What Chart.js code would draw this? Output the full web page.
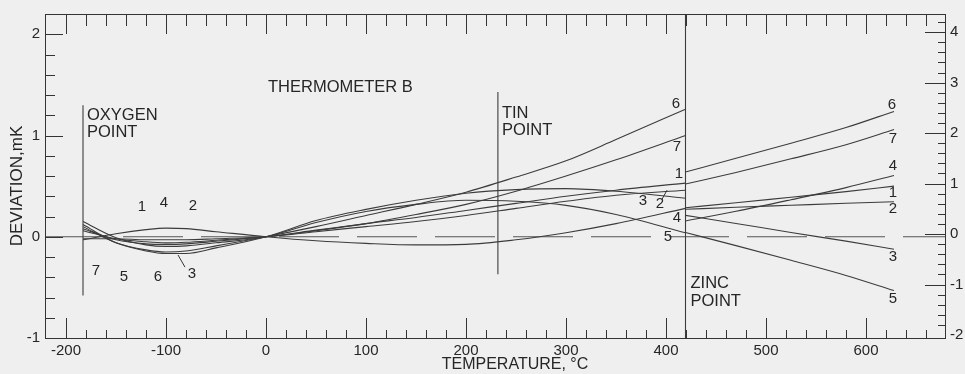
<!DOCTYPE html>
<html>
<head>
<meta charset="utf-8">
<script src="https://cdn.jsdelivr.net/npm/chart.js@4.4.0/dist/chart.umd.min.js"></script>
<style>
  html, body { margin: 0; padding: 0; background: #efefef; }
</style>
</head>
<body>
<canvas id="dev-chart" width="965" height="374"></canvas>
<script>
// temperatures (C) where the curves were read, below the zinc point
var tempsLow = [-183, -150, -120, -100, -80, -50, 0, 50, 100, 150, 200, 250, 300, 350, 419.5];
// deviations, mK (left axis)
var low1 = [0.06, -0.02, -0.05, -0.06, -0.055, -0.035, 0, 0.065, 0.13, 0.19, 0.26, 0.33, 0.40, 0.46, 0.53];
var low2 = [-0.02, -0.02, -0.03, -0.03, -0.03, -0.02, 0, 0.05, 0.10, 0.15, 0.21, 0.28, 0.35, 0.41, 0.46];
var low3 = [0.12, -0.06, -0.14, -0.165, -0.165, -0.11, 0, 0.16, 0.27, 0.36, 0.43, 0.465, 0.475, 0.45, 0.38];
var low4 = [-0.03, 0.03, 0.07, 0.085, 0.08, 0.05, 0, -0.04, -0.065, -0.08, -0.075, -0.03, 0.04, 0.13, 0.28];
var low5 = [0.15, -0.01, -0.08, -0.095, -0.09, -0.06, 0, 0.14, 0.25, 0.32, 0.36, 0.35, 0.31, 0.22, 0.04];
var low6 = [0.10, -0.06, -0.13, -0.15, -0.14, -0.09, 0, 0.10, 0.21, 0.32, 0.44, 0.59, 0.75, 0.96, 1.26];
var low7 = [0.08, -0.03, -0.07, -0.075, -0.07, -0.045, 0, 0.06, 0.13, 0.22, 0.32, 0.45, 0.60, 0.76, 1.00];

// zinc point to antimony point (right axis)
var tempsHigh = [419.5, 470, 525, 580, 628];
var high1 = [0.52, 0.62, 0.73, 0.84, 0.95];
var high2 = [0.49, 0.53, 0.57, 0.61, 0.64];
var high3 = [0.37, 0.21, 0.03, -0.14, -0.30];
var high4 = [0.26, 0.45, 0.68, 0.92, 1.16];
var high5 = [0.03, -0.23, -0.52, -0.82, -1.12];
var high6 = [1.23, 1.50, 1.80, 2.11, 2.43];
var high7 = [0.99, 1.22, 1.49, 1.77, 2.07];

// fixed points: temperature, bottom and top of the marker line (mK)
var fixedPoints = [-183, 231.9, 419.5];
var fixedLow = [-0.58, -0.37, -1];
var fixedHigh = [1.30, 1.43, 2.2];

var xTicks = [-200, -100, 0, 100, 200, 300, 400, 500, 600];
var yTicks = [-1, 0, 1, 2];
var y2Ticks = [-2, -1, 0, 1, 2, 3, 4];

var FONT = '"Liberation Sans", Arial, Helvetica, sans-serif';
var INK = '#262626';
var LINE = '#3c3c3c';

function pts(xs, ys) {
    return xs.map(function (t, i) { return {x: t, y: ys[i]}; });
}

var datasets = [];
[low1, low2, low3, low4, low5, low6, low7].forEach(function (arr) {
    datasets.push({data: pts(tempsLow, arr), yAxisID: 'y'});
});
[high1, high2, high3, high4, high5, high6, high7].forEach(function (arr) {
    datasets.push({data: pts(tempsHigh, arr), yAxisID: 'y2'});
});
fixedPoints.forEach(function (t, i) {
    datasets.push({data: [{x: t, y: fixedLow[i]}, {x: t, y: fixedHigh[i]}], yAxisID: 'y', cubicInterpolationMode: 'default', tension: 0});
});
// zero line
datasets.push({data: [{x: -221, y: 0}, {x: 679, y: 0}], yAxisID: 'y', borderDash: [60, 18], tension: 0, borderColor: '#555'});

// curve numbers: text, temperature, value, axis
var curveTags = [
    ['1', -124, 0.295, 'y'], ['4', -102, 0.33, 'y'], ['2', -73, 0.305, 'y'],
    ['7', -170, -0.34, 'y'], ['5', -142, -0.40, 'y'], ['6', -108, -0.40, 'y'], ['3', -74, -0.37, 'y'],
    ['6', 410, 1.31, 'y'], ['7', 411, 0.885, 'y'], ['1', 413, 0.62, 'y'],
    ['3', 377, 0.355, 'y'], ['2', 394, 0.325, 'y'], ['4', 411, 0.19, 'y'], ['5', 402, 0.0, 'y'],
    ['6', 626, 2.56, 'y2'], ['7', 627, 1.89, 'y2'], ['4', 627, 1.36, 'y2'], ['1', 627, 0.81, 'y2'],
    ['2', 627, 0.49, 'y2'], ['3', 627, -0.45, 'y2'], ['5', 627, -1.28, 'y2']
];
// small leader strokes
var leaders = [[-81, -0.30, -88, -0.18], [396, 0.37, 401, 0.46]];

var decor = {
    id: 'decor',
    afterDraw: function (chart) {
        var ctx = chart.ctx, a = chart.chartArea;
        var sx = chart.scales.x, sy = chart.scales.y, sy2 = chart.scales.y2;
        ctx.save();
        ctx.strokeStyle = '#333';
        ctx.lineWidth = 1;
        ctx.strokeRect(Math.round(a.left) + 0.5, Math.round(a.top) + 0.5, Math.round(a.right - a.left), Math.round(a.bottom - a.top));

        ctx.beginPath();
        for (var v = -200; v <= 660; v += 20) {
            var px = Math.round(sx.getPixelForValue(v)) + 0.5;
            var big = v % 100 === 0;
            ctx.moveTo(px, a.bottom); ctx.lineTo(px, a.bottom - (big ? 20 : 8));
            ctx.moveTo(px, a.top); ctx.lineTo(px, a.top + (big ? 20 : 12));
        }
        for (var k = -4; k <= 10; k++) {
            var py = Math.round(sy.getPixelForValue(k / 5)) + 0.5;
            ctx.moveTo(a.left, py); ctx.lineTo(a.left + (k % 5 === 0 ? 18 : 10), py);
        }
        for (var j = -9; j <= 21; j++) {
            var py2 = Math.round(sy2.getPixelForValue(j / 5)) + 0.5;
            ctx.moveTo(a.right, py2); ctx.lineTo(a.right - (j % 5 === 0 ? 20 : 7), py2);
        }
        leaders.forEach(function (l) {
            ctx.moveTo(sx.getPixelForValue(l[0]), sy.getPixelForValue(l[1]));
            ctx.lineTo(sx.getPixelForValue(l[2]), sy.getPixelForValue(l[3]));
        });
        ctx.stroke();

        ctx.fillStyle = INK;
        ctx.textBaseline = 'middle';
        ctx.font = '16.5px ' + FONT;
        ctx.textAlign = 'left';
        ctx.fillText('THERMOMETER B', 268, 87);
        var ox = sx.getPixelForValue(fixedPoints[0]) + 4;
        ctx.fillText('OXYGEN', ox, 115);
        ctx.fillText('POINT', ox, 132);
        var tx = sx.getPixelForValue(fixedPoints[1]) + 4;
        ctx.fillText('TIN', tx, 113);
        ctx.fillText('POINT', tx, 130);
        var zx = sx.getPixelForValue(fixedPoints[2]) + 5;
        ctx.fillText('ZINC', zx, 283);
        ctx.fillText('POINT', zx, 301);

        ctx.font = '15px ' + FONT;
        ctx.textAlign = 'center';
        curveTags.forEach(function (c) {
            var s = c[3] === 'y' ? sy : sy2;
            ctx.fillText(c[0], sx.getPixelForValue(c[1]), s.getPixelForValue(c[2]));
        });

        ctx.font = '16px ' + FONT;
        ctx.fillText('TEMPERATURE, \u00b0C', 515, 365);
        ctx.translate(17, 186);
        ctx.rotate(-Math.PI / 2);
        ctx.font = '17px ' + FONT;
        ctx.fillText('DEVIATION,mK', 0, 0);
        ctx.restore();
    }
};

function fixedTicks(list) {
    return function (scale) { scale.ticks = list.map(function (v) { return {value: v}; }); };
}

var tickFont = {family: FONT, size: 15};

new Chart(document.getElementById('dev-chart').getContext('2d'), {
    type: 'line',
    data: {datasets: datasets},
    options: {
        responsive: false,
        animation: false,
        devicePixelRatio: 1,
        layout: {padding: {top: 13, left: 0, right: 0, bottom: 0}},
        elements: {
            point: {radius: 0},
            line: {borderColor: LINE, borderWidth: 1.1, fill: false, cubicInterpolationMode: 'monotone'}
        },
        plugins: {legend: {display: false}, tooltip: {enabled: false}},
        scales: {
            x: {
                type: 'linear', min: -221, max: 679,
                grid: {display: false, drawTicks: false}, border: {display: false},
                afterBuildTicks: fixedTicks(xTicks),
                afterFit: function (s) { s.height = 36; },
                ticks: {color: INK, font: tickFont, padding: 4, maxRotation: 0, autoSkip: false}
            },
            y: {
                type: 'linear', position: 'left', min: -1, max: 2.2,
                grid: {display: false, drawTicks: false}, border: {display: false},
                afterBuildTicks: fixedTicks(yTicks),
                afterFit: function (s) { s.width = 45; },
                ticks: {color: INK, font: tickFont, padding: 5}
            },
            y2: {
                type: 'linear', position: 'right', min: -2.06, max: 4.36,
                grid: {display: false, drawTicks: false}, border: {display: false},
                afterBuildTicks: fixedTicks(y2Ticks),
                afterFit: function (s) { s.width = 20; },
                ticks: {color: INK, font: tickFont, padding: 5}
            }
        }
    },
    plugins: [decor]
});
</script>
</body>
</html>
